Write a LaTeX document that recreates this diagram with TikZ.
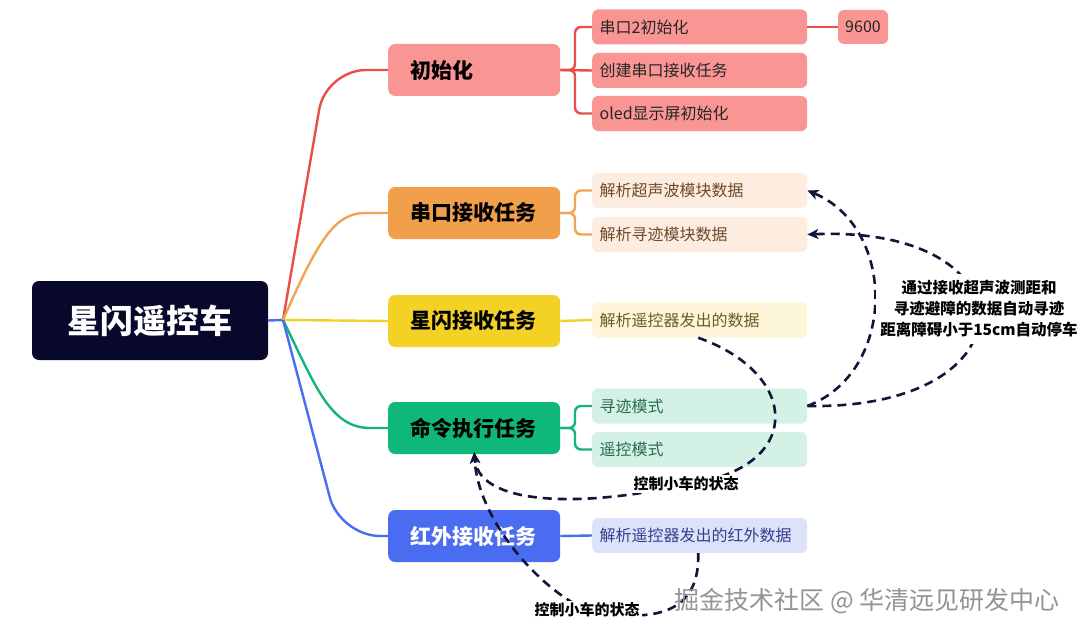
\documentclass[tikz,border=0pt]{standalone}
\usepackage{fontspec}
\setmainfont{Noto Sans CJK SC}
\usetikzlibrary{arrows.meta}
\definecolor{rootc}{HTML}{08082C}
\definecolor{redf}{HTML}{F99593}
\definecolor{redl}{HTML}{E94F48}
\definecolor{orgf}{HTML}{F29F4B}
\definecolor{orgl}{HTML}{F2A452}
\definecolor{orgsf}{HTML}{FDEDE0}
\definecolor{orgst}{HTML}{6E4A2A}
\definecolor{yelf}{HTML}{F4D125}
\definecolor{yell}{HTML}{F2CF2C}
\definecolor{yelsf}{HTML}{FEF6D9}
\definecolor{yelst}{HTML}{6B5A22}
\definecolor{grnf}{HTML}{0FB878}
\definecolor{grnl}{HTML}{13B57C}
\definecolor{grnsf}{HTML}{D3F2E5}
\definecolor{grnst}{HTML}{2A6A50}
\definecolor{bluf}{HTML}{4A6CF0}
\definecolor{blul}{HTML}{4A6CF0}
\definecolor{blusf}{HTML}{DDE2FB}
\definecolor{blust}{HTML}{34408A}
\definecolor{relc}{HTML}{14143A}
\tikzset{
  mainbox/.style={rounded corners=7pt, minimum height=52pt, text width=128pt, inner xsep=22pt, inner ysep=0pt, align=left, font=\fontsize{21}{25}\selectfont\bfseries, anchor=west},
  subbox/.style={rounded corners=6pt, minimum height=35pt, text width=200pt, inner xsep=7.5pt, inner ysep=0pt, align=left, font=\fontsize{16}{19}\selectfont, anchor=west},
  br/.style={line width=2.4pt},
  rel/.style={line width=2.6pt, color=relc, dash pattern=on 9pt off 6pt, -{Stealth[length=11pt,width=10pt,inset=3pt]}},
  lbl/.style={fill=white, inner sep=2pt, text=black, font=\fontsize{15}{18}\selectfont\bfseries},
}
\begin{document}
\begin{tikzpicture}[x=1pt,y=-1pt]
\useasboundingbox[fill=white] (0,0) rectangle (1080,634);

% root
\node[fill=rootc, rounded corners=7pt, minimum width=236pt, minimum height=79pt, inner sep=0pt, text=white, font=\fontsize{33}{38}\selectfont\bfseries] (root) at (150,320.5) {星闪遥控车};
\coordinate (hub) at (283,320);

% main branches
\node[mainbox, fill=redf] (i) at (388,70) {初始化};
\node[mainbox, fill=orgf] (s) at (388,213) {串口接收任务};
\node[mainbox, fill=yelf] (x) at (388,321) {星闪接收任务};
\node[mainbox, fill=grnf] (m) at (388,428) {命令执行任务};
\node[mainbox, fill=bluf, text=white] (r) at (388,536) {红外接收任务};

% children
\node[subbox, fill=redf, text=black!85] (c11) at (592,27) {串口2初始化};
\node[subbox, fill=redf, text=black!85] (c12) at (592,70.5) {创建串口接收任务};
\node[subbox, fill=redf, text=black!85] (c13) at (592,113.5) {oled显示屏初始化};
\node[fill=redf, rounded corners=6pt, minimum width=50pt, minimum height=34pt, inner sep=0pt, text=black!85, font=\fontsize{16}{19}\selectfont] (n96) at (863,27) {9600};

\node[subbox, fill=orgsf, text=orgst] (s1) at (592,190.5) {解析超声波模块数据};
\node[subbox, fill=orgsf, text=orgst] (s2) at (592,234.5) {解析寻迹模块数据};

\node[subbox, fill=yelsf, text=yelst] (x1) at (592,320) {解析遥控器发出的数据};

\node[subbox, fill=grnsf, text=grnst] (m1) at (592,406) {寻迹模式};
\node[subbox, fill=grnsf, text=grnst] (m2) at (592,449.5) {遥控模式};

\node[subbox, fill=blusf, text=blust] (r1) at (592,535.5) {解析遥控器发出的红外数据};

% root to branches
\draw[br, blul] (root.east) -- (hub);
\draw[br, redl, rounded corners=40pt] (hub) -- (326,70) -- (i.west);
\draw[br, orgl] (hub) .. controls (318,240) and (335,213) .. (365,213) -- (s.west);
\draw[br, yell] (hub) -- (x.west);
\draw[br, grnl] (hub) .. controls (315,385) and (330,428) .. (370,428) -- (m.west);
\draw[br, blul, rounded corners=40pt] (hub) -- (340,536) -- (r.west);

% branch to children
\draw[br, redl, rounded corners=6pt] (i.east) -- (575,70) |- (c11.west);
\draw[br, redl, rounded corners=6pt] (i.east) -- (575,70) |- (c13.west);
\draw[br, redl] (i.east) -- (c12.west);
\draw[br, redl] (c11.east) -- (n96.west);

\draw[br, orgl, rounded corners=6pt] (s.east) -- (575,213) |- (s1.west);
\draw[br, orgl, rounded corners=6pt] (s.east) -- (575,213) |- (s2.west);

\draw[br, yell] (x.east) -- (x1.west);

\draw[br, grnl, rounded corners=6pt] (m.east) -- (575,428) |- (m1.west);
\draw[br, grnl, rounded corners=6pt] (m.east) -- (575,428) |- (m2.west);

\draw[br, blul] (r.east) -- (r1.west);

% relationships
\draw[rel] (m1.east) .. controls (897,372) and (897,228) .. (s1.east);
\draw[rel] (m1.east) .. controls (1035,410) and (1035,225) .. (s2.east);
\node[lbl, align=center, inner xsep=4pt, inner ysep=7pt, font=\fontsize{15.5}{21}\selectfont\bfseries] (lab1) at (979,309) {通过接收超声波测距和\\寻迹避障的数据自动寻迹\\距离障碍小于15cm自动停车};

\draw[rel] ([xshift=-1.5pt]x1.south) .. controls (803,375) and (803,470) .. (686,484) node[lbl] (lab2) {控制小车的状态} .. controls (600,505) and (480,510) .. ([yshift=2pt]m.south);
\draw[rel] ([xshift=-1.5pt]r1.south) .. controls (700,610) and (660,625) .. (587,610) node[lbl] (lab3) {控制小车的状态} .. controls (540,590) and (478,520) .. ([yshift=2pt]m.south);

% watermark
\node[text=black!42, font=\fontsize{25}{28}\selectfont, anchor=east, inner sep=0pt] (wm) at (1060,601) {掘金技术社区 @ 华清远见研发中心};
\end{tikzpicture}
\end{document}
